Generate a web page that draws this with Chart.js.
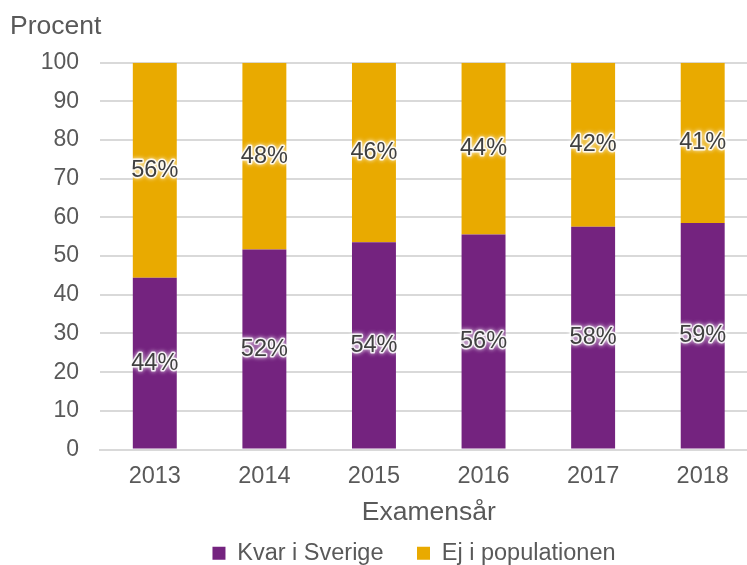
<!DOCTYPE html>
<html lang="sv">
<head>
    <meta charset="UTF-8">
    <title>Examensår</title>
    <script src="https://cdn.jsdelivr.net/npm/chart.js"></script>
    <style>
        html, body { margin: 0; padding: 0; background: #fff; overflow: hidden; }
        #wrap { width: 747px; height: 565px; overflow: hidden; }
        #box { width: 818px; height: 575px; }
    </style>
</head>
<body>
    <div id="wrap"><div id="box"><canvas id="chart"></canvas></div></div>

    <script>
        const years = ['2013', '2014', '2015', '2016', '2017', '2018'];
        const kvarISverige = [44.4, 51.7, 53.6, 55.6, 57.6, 58.6];
        const ejIPopulationen = [55.6, 48.3, 46.4, 44.4, 42.4, 41.4];
        const yTicks = [0, 10, 20, 30, 40, 50, 60, 70, 80, 90, 100];

        const textColor = '#595959';
        const font = 'Arial, "Liberation Sans", sans-serif';

        // percent labels with a soft white halo, centred in each segment
        const segmentLabels = {
            id: 'segmentLabels',
            afterDatasetsDraw(chart) {
                const ctx = chart.ctx;
                ctx.save();
                ctx.font = '23.5px ' + font;
                ctx.textAlign = 'center';
                ctx.textBaseline = 'middle';
                ctx.lineJoin = 'round';
                chart.data.datasets.forEach((ds, i) => {
                    chart.getDatasetMeta(i).data.forEach((bar, j) => {
                        const txt = Math.round(ds.data[j]) + '%';
                        const y = (bar.y + bar.base) / 2;
                        ctx.shadowColor = '#fff';
                        ctx.shadowBlur = 4;
                        ctx.strokeStyle = 'rgba(255,255,255,0.85)';
                        ctx.lineWidth = 3;
                        ctx.strokeText(txt, bar.x, y);
                        ctx.shadowBlur = 0;
                        ctx.fillStyle = '#404040';
                        ctx.fillText(txt, bar.x, y);
                    });
                });
                ctx.restore();
            }
        };

        new Chart(document.getElementById('chart'), {
            type: 'bar',
            data: {
                labels: years,
                datasets: [{
                    label: 'Kvar i Sverige',
                    data: kvarISverige,
                    backgroundColor: '#74237f',
                    categoryPercentage: 1,
                    barPercentage: 0.401
                }, {
                    label: 'Ej i populationen',
                    data: ejIPopulationen,
                    backgroundColor: '#e9aa00',
                    categoryPercentage: 1,
                    barPercentage: 0.401
                }]
            },
            options: {
                responsive: true,
                maintainAspectRatio: false,
                animation: false,
                layout: { padding: { left: 10, right: 0, top: 0, bottom: 0 } },
                plugins: {
                    title: {
                        display: true,
                        text: 'Procent',
                        align: 'start',
                        color: textColor,
                        font: { family: font, size: 26.5, weight: 'normal' },
                        padding: { top: 11, bottom: 20 }
                    },
                    legend: {
                        position: 'bottom',
                        labels: {
                            color: textColor,
                            font: { family: font, size: 23.5 },
                            boxWidth: 13,
                            boxHeight: 13,
                            padding: 10,
                            // wider gap between the two entries
                            generateLabels(chart) {
                                const items = Chart.defaults.plugins.legend.labels.generateLabels(chart);
                                items[0].text += '\u2003';
                                return items;
                            }
                        }
                    },
                    tooltip: { enabled: false }
                },
                scales: {
                    x: {
                        stacked: true,
                        grid: { display: false },
                        border: { color: '#d9d9d9', width: 2 },
                        ticks: { color: textColor, font: { family: font, size: 23.5 }, padding: 5 },
                        title: {
                            display: true,
                            text: 'Examensår',
                            color: textColor,
                            font: { family: font, size: 26.5 },
                            padding: { top: 0, bottom: 3 }
                        },
                        afterFit(axis) {
                            axis.height = 82;
                        }
                    },
                    y: {
                        stacked: true,
                        min: 0,
                        max: 100,
                        afterBuildTicks(axis) {
                            axis.ticks = yTicks.map(v => ({ value: v }));
                        },
                        afterFit(axis) {
                            axis.width = 90;
                        },
                        grid: { color: '#d9d9d9', lineWidth: 2, drawTicks: false },
                        border: { display: false },
                        ticks: { color: textColor, font: { family: font, size: 23 }, padding: 21 }
                    },
                    // empty right-hand strip, the plot runs past the picture's edge
                    yRight: {
                        position: 'right',
                        display: true,
                        grid: { display: false },
                        border: { display: false },
                        ticks: { display: false },
                        afterFit(axis) {
                            axis.width = 60.5;
                        }
                    }
                }
            },
            plugins: [segmentLabels]
        });
    </script>
</body>
</html>
